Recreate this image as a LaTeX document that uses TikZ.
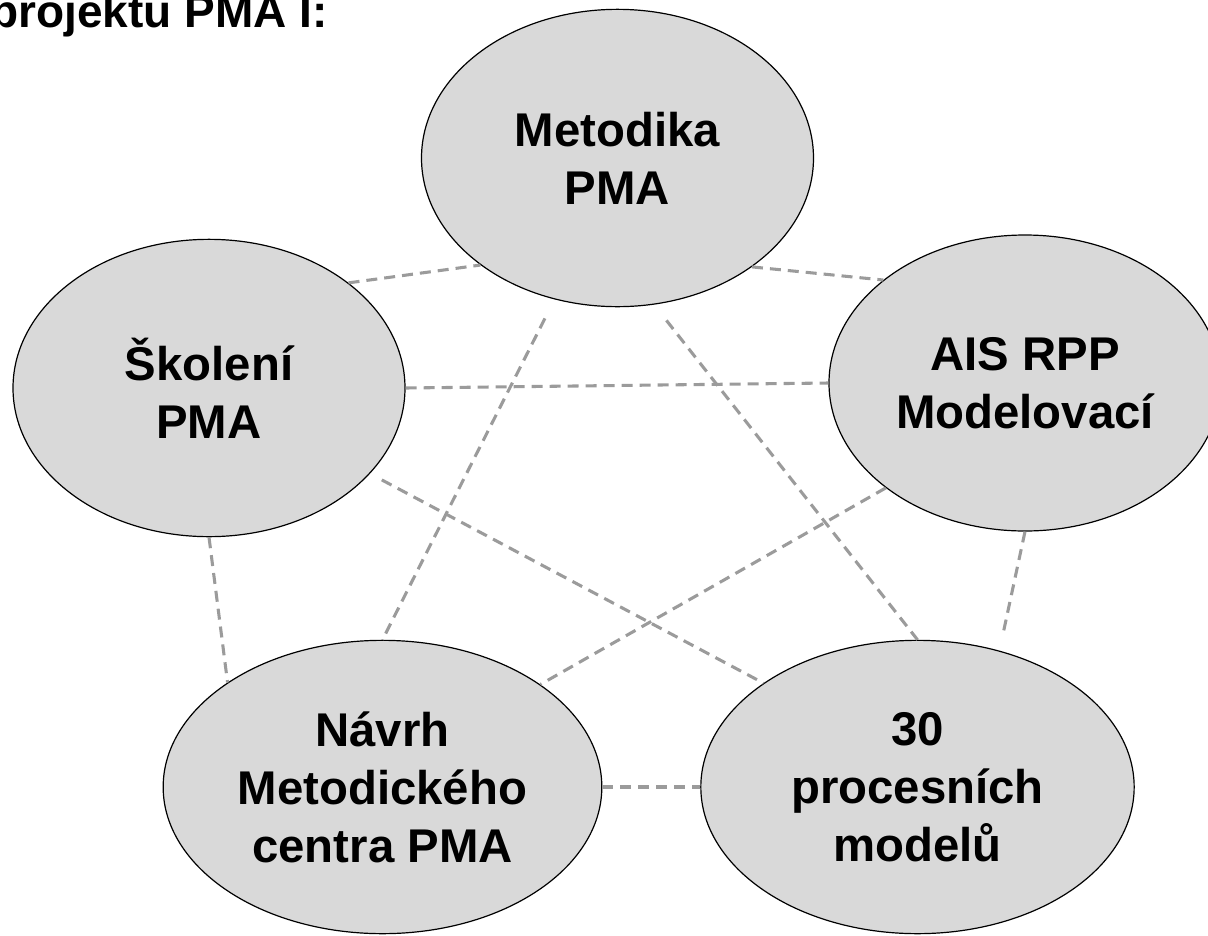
\documentclass[tikz,border=0pt]{standalone}
\usepackage{fontspec}
\setmainfont{Liberation Sans}
\usetikzlibrary{shapes.geometric}
\definecolor{bubblefill}{RGB}{217,217,217}
\definecolor{linkgray}{RGB}{155,155,155}

\begin{document}
\begin{tikzpicture}[x=0.75pt, y=-0.75pt]
  \tikzset{
    bubble/.style={ellipse, draw=black, line width=0.9pt, fill=bubblefill,
      inner sep=0pt, align=center,
      font={\fontsize{35.5pt}{43.5pt}\selectfont\bfseries},
      minimum width=294pt, minimum height=223pt},
    wide bubble/.style={bubble, minimum width=327pt, minimum height=220pt},
    link/.style={draw=linkgray, line width=2.3pt, dash pattern=on 8.25pt off 5.25pt},
  }
  \clip (0,0) rectangle (1208,936);

  % heading, cut at the top edge
  \node[anchor=base east, inner sep=0pt, font={\fontsize{34.5pt}{40pt}\selectfont\bfseries}]
    (nadpis) at (328,27) {projektu PMA I:};

  % the five parts
  \node[bubble] (metodika) at (617.5,158) {Metodika\\PMA};
  \node[bubble] (skoleni) at (209,388) {Školení\\PMA};
  \node[bubble, minimum height=222pt] (ais) at (1025,383) {AIS RPP\\Modelovací};
  \node[wide bubble, minimum width=329pt] (navrh) at (382.5,787) {Návrh\\Metodického\\centra PMA};
  \node[wide bubble, minimum width=325pt] (procesy) at (917.5,787) {30\\procesních\\modelů};

  % dashed links, every part with every other
  \draw[link] (skoleni.37.5) -- (metodika.218);
  \draw[link] (metodika.321.6) -- (ais.144.1);
  \draw[link] (skoleni.east) -- (ais.west);
  \draw[link, shorten <=16pt] (metodika.246.7) -- (navrh.north);
  \draw[link, shorten <=15pt] (metodika.284.3) -- (procesy.north);
  \draw[link, shorten <=10pt] (skoleni.332.6) -- (procesy.146);
  \draw[link] (ais.217.5) -- (navrh.33.5);
  \draw[link] (skoleni.south) -- (navrh.146.1);
  \draw[link, shorten >=12pt] (ais.south) -- (procesy.59.3);
  \draw[link] (navrh.east) -- (procesy.west);
\end{tikzpicture}
\end{document}
